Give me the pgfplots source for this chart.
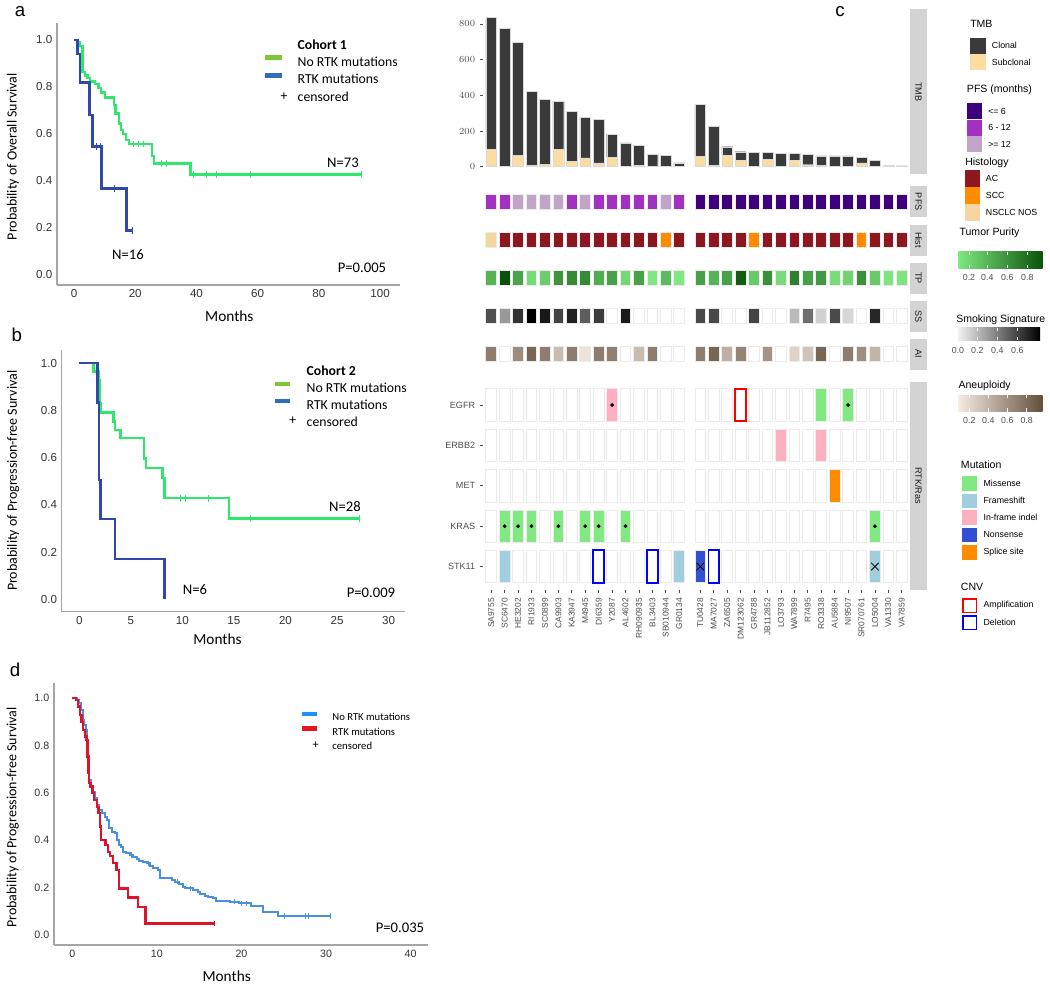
\documentclass[border=0pt]{standalone}
\usepackage{pgfplots}
\pgfplotsset{compat=1.18}
\usepackage{fontspec}
\setmainfont{Carlito}
\newfontfamily\arial{Liberation Sans}
\newcommand\fa[1]{\arial\fontsize{#1}{#1}\selectfont}
\newcommand\fc[1]{\fontsize{#1}{#1}\selectfont}
\definecolor{kmgreen}{RGB}{46,232,107}
\definecolor{kmblue}{RGB}{48,72,170}
\definecolor{leggreen}{RGB}{125,200,50}
\definecolor{legblue}{RGB}{47,109,181}
\definecolor{dblue}{RGB}{74,144,226}
\definecolor{dred}{RGB}{222,18,40}
\definecolor{dlegblue}{RGB}{30,144,255}
\definecolor{dlegred}{RGB}{232,20,30}
\definecolor{axgray}{RGB}{165,165,165}
\definecolor{clonal}{RGB}{58,58,58}
\definecolor{subclonal}{RGB}{253,220,162}
\definecolor{pfsA}{RGB}{63,0,125}
\definecolor{pfsB}{RGB}{162,48,192}
\definecolor{pfsC}{RGB}{194,164,200}
\definecolor{histAC}{RGB}{142,22,30}
\definecolor{histSCC}{RGB}{255,140,0}
\definecolor{histNOS}{RGB}{245,214,160}
\definecolor{missense}{RGB}{128,234,128}
\definecolor{frameshift}{RGB}{160,206,222}
\definecolor{inframe}{RGB}{255,176,192}
\definecolor{nonsense}{RGB}{50,80,210}
\definecolor{splice}{RGB}{255,140,0}
\definecolor{stripgray}{RGB}{211,211,211}
\definecolor{tickgray}{RGB}{77,77,77}
\definecolor{tpLo}{RGB}{128,232,128}
\definecolor{tpHi}{RGB}{10,82,10}
\definecolor{aiLo}{RGB}{245,235,225}
\definecolor{aiHi}{RGB}{100,78,60}
\pgfdeclareplotmark{tileS}{\pgfpathrectangle{\pgfqpoint{-4.03pt}{-5.6pt}}{\pgfqpoint{8.06pt}{11.2pt}}\pgfusepathqfillstroke}
\pgfdeclareplotmark{tileL}{\pgfpathrectangle{\pgfqpoint{-4.03pt}{-12.2pt}}{\pgfqpoint{8.06pt}{24.4pt}}\pgfusepathqfillstroke}
\pgfplotsset{
  km/.style={scale only axis, anchor=south west, axis x line*=bottom, axis y line*=left,
    axis line style={draw=axgray, line width=1.1pt}, major tick length=0pt,
    tick label style={font=\fa{8.7}, text=black!80},
    /pgf/number format/assume math mode=true,
    ytick={0,0.2,0.4,0.6,0.8,1},
    yticklabel style={/pgf/number format/fixed, /pgf/number format/fixed zerofill, /pgf/number format/precision=1},
    clip=false},
  cfacet/.style={scale only axis, anchor=south west, width=319.3pt, xmin=-0.6, xmax=31.1,
    axis line style={draw=none}, xtick=\empty, ytick=\empty, clip=false},
  crow/.style={cfacet, ymin=0, ymax=1, height=23.25pt},
  tileopt/.style={only marks, mark=tileS, mark options={fill=#1, draw=black!8, line width=0.6pt}},
  tileL/.style={only marks, mark=tileL, mark options={fill=#1, draw=black!8, line width=0.6pt}},
}
\begin{document}
\begin{tikzpicture}
\begin{scope}[x=0.75pt,y=-0.75pt]
\path[use as bounding box] (0,0) rectangle (1050,990);
\end{scope}

%================ Panel a
\begin{axis}[km, at={(42.75pt,-213.75pt)}, width=257.25pt, height=196.5pt,
  xmin=-5.56, xmax=106.5, ymin=-0.043, ymax=1.072, xtick={0,20,40,60,80,100}]
\addplot[const plot, kmgreen, line width=1.8pt] coordinates {(0,1.0)(1.09,0.99)(1.96,0.975)(2.83,0.863)(3.6,0.849)(4.36,0.837)(5.2,0.823)(6.9,0.813)(8.0,0.795)(8.8,0.776)(10.1,0.755)(13.1,0.722)(13.6,0.687)(14.7,0.645)(15.4,0.617)(16.1,0.599)(17.0,0.575)(18.0,0.557)(25.4,0.505)(26.2,0.474)(38.1,0.428)(94,0.428)};
\addplot[only marks, mark=|, mark size=2.5pt, kmgreen, mark options={line width=0.7pt}] coordinates {(19.4,0.557)(21,0.557)(22.7,0.557)(28.6,0.474)(30.3,0.474)(39,0.428)(43.4,0.428)(46.6,0.428)(57.5,0.428)(94,0.428)};
\addplot[const plot, kmblue, line width=1.8pt] coordinates {(0,1.0)(1.09,0.94)(1.96,0.818)(5.0,0.68)(6.1,0.547)(9.0,0.367)(17.2,0.189)(19.4,0.189)};
\addplot[only marks, mark=|, mark size=2.5pt, kmblue, mark options={line width=0.7pt}] coordinates {(7.4,0.547)(8.5,0.547)(13.1,0.367)(19.2,0.189)};
\end{axis}

%================ Panel b
\begin{axis}[km, at={(46.28pt,-458.78pt)}, width=257.5pt, height=196.3pt,
  xmin=-1.71, xmax=31.6, ymin=-0.0525, ymax=1.056, xtick={0,5,10,15,20,25,30}]
\addplot[const plot, kmgreen, line width=1.8pt] coordinates {(0,1.0)(1.36,0.965)(1.9,0.93)(2.0,0.83)(2.1,0.791)(3.3,0.753)(3.46,0.718)(4.01,0.682)(6.28,0.597)(6.44,0.555)(8.06,0.513)(8.25,0.428)(14.5,0.342)(27.2,0.342)};
\addplot[only marks, mark=|, mark size=2.5pt, kmgreen, mark options={line width=0.7pt}] coordinates {(9.77,0.428)(10.26,0.428)(12.5,0.428)(16.6,0.342)(27.2,0.342)};
\addplot[const plot, kmblue, line width=1.8pt] coordinates {(0,1.0)(1.78,0.833)(1.88,0.506)(2.07,0.339)(3.46,0.171)(8.25,0.0)};
\end{axis}

%================ Panel d
\begin{axis}[km, at={(40.5pt,-708.75pt)}, width=280.7pt, height=196.3pt,
  xmin=-2.16, xmax=42.08, ymin=-0.042, ymax=1.063, xtick={0,10,20,30,40}, tick label style={font=\fa{8}}]
\addplot[const plot, dblue, line width=1.5pt] coordinates {(0,1.0)(0.51,0.993)(0.83,0.979)(1.02,0.951)(1.22,0.908)(1.38,0.887)(1.58,0.866)(1.69,0.810)(1.81,0.739)(1.89,0.683)(2.01,0.655)(2.17,0.627)(2.40,0.606)(2.68,0.577)(2.96,0.549)(3.19,0.528)(3.47,0.514)(3.86,0.500)(4.14,0.486)(4.37,0.451)(4.65,0.437)(5.04,0.430)(5.32,0.401)(5.48,0.380)(5.71,0.370)(6.03,0.352)(6.34,0.345)(6.82,0.338)(7.21,0.331)(7.61,0.320)(7.92,0.314)(8.32,0.310)(8.79,0.303)(9.18,0.292)(9.58,0.282)(10.17,0.275)(10.40,0.239)(11.74,0.232)(12.14,0.225)(12.65,0.214)(13.04,0.204)(13.32,0.197)(14.31,0.190)(14.90,0.183)(15.09,0.172)(15.68,0.165)(16.08,0.162)(16.67,0.155)(16.99,0.145)(18.64,0.141)(19.74,0.134)(21.08,0.124)(22.58,0.099)(24.28,0.080)(30.46,0.080)};
\addplot[only marks, mark=|, mark size=2pt, dblue, mark options={line width=0.6pt}] coordinates {(7.0,0.338)(9.0,0.303)(12.4,0.225)(14.0,0.197)(19.2,0.141)(20.0,0.134)(20.6,0.134)(25.1,0.080)(27.5,0.080)(27.9,0.080)(30.46,0.080)};
\addplot[const plot, dred, line width=1.7pt] coordinates {(0,1.0)(0.43,0.993)(0.71,0.965)(0.91,0.930)(1.10,0.901)(1.30,0.866)(1.50,0.838)(1.69,0.824)(1.81,0.754)(1.93,0.683)(2.01,0.641)(2.17,0.627)(2.40,0.599)(2.60,0.570)(2.88,0.542)(3.11,0.514)(3.27,0.458)(3.43,0.401)(3.94,0.380)(4.22,0.352)(4.45,0.334)(4.85,0.303)(5.24,0.275)(5.48,0.197)(6.62,0.159)(7.80,0.120)(8.67,0.049)(16.8,0.049)};
\addplot[only marks, mark=|, mark size=2pt, dred, mark options={line width=0.6pt}] coordinates {(16.8,0.049)};
\end{axis}

%================ Panel c : TMB
\begin{axis}[cfacet, at={(362.36pt,-130.5pt)}, height=123.5pt, ymin=-41, ymax=882,
  ybar stacked, bar width=0.8,
  ytick={0,200,400,600,800}, ytick pos=left, tick align=outside, major tick length=2.5pt,
  y tick style={draw=tickgray, line width=0.6pt},
  yticklabel style={font=\fa{6.8}, text=tickgray}]
\addplot[fill=subclonal, draw=white!85!black, line width=0.3pt] coordinates {(0,97)(1,0)(2,64)(3,6)(4,13)(5,99)(6,28)(7,49)(8,21)(9,54)(10,0)(11,9)(12,0)(13,0)(14,0)(15.57,58)(16.57,9)(17.57,64)(18.57,34)(19.57,0)(20.57,41)(21.57,0)(22.57,37)(23.57,11)(24.57,7)(25.57,0)(26.57,0)(27.57,22)(28.57,0)(29.57,0)(30.57,0)};
\addplot[fill=clonal, draw=white!85!black, line width=0.3pt] coordinates {(0,740)(1,774)(2,631)(3,416)(4,366)(5,269)(6,284)(7,228)(8,243)(9,129)(10,133)(11,109)(12,71)(13,64)(14,22)(15.57,290)(16.57,217)(17.57,48)(18.57,50)(19.57,79)(20.57,38)(21.57,75)(22.57,38)(23.57,58)(24.57,53)(25.57,60)(26.57,60)(27.57,32)(28.57,37)(29.57,6)(30.57,4)};
\end{axis}

% PFS
\begin{axis}[crow, at={(362.36pt,-162.98pt)}]
\addplot[tileopt=pfsB] coordinates {(0,0.5)(1,0.5)(6,0.5)(8,0.5)(9,0.5)(10,0.5)(11,0.5)(12,0.5)(14,0.5)};
\addplot[tileopt=pfsC] coordinates {(2,0.5)(3,0.5)(4,0.5)(5,0.5)(7,0.5)(13,0.5)};
\addplot[tileopt=pfsA] coordinates {(15.57,0.5)(16.57,0.5)(17.57,0.5)(18.57,0.5)(19.57,0.5)(20.57,0.5)(21.57,0.5)(22.57,0.5)(23.57,0.5)(24.57,0.5)(25.57,0.5)(26.57,0.5)(27.57,0.5)(28.57,0.5)(29.57,0.5)(30.57,0.5)};
\end{axis}

% Histology
\begin{axis}[crow, at={(362.36pt,-191.63pt)}]
\addplot[tileopt=histNOS] coordinates {(0,0.5)};
\addplot[tileopt=histSCC] coordinates {(13,0.5)(19.57,0.5)(27.57,0.5)};
\addplot[tileopt=histAC] coordinates {(1,0.5)(2,0.5)(3,0.5)(4,0.5)(5,0.5)(6,0.5)(7,0.5)(8,0.5)(9,0.5)(10,0.5)(11,0.5)(12,0.5)(14,0.5)(15.57,0.5)(16.57,0.5)(17.57,0.5)(18.57,0.5)(20.57,0.5)(21.57,0.5)(22.57,0.5)(23.57,0.5)(24.57,0.5)(25.57,0.5)(26.57,0.5)(28.57,0.5)(29.57,0.5)(30.57,0.5)};
\end{axis}

% Tumor purity
\begin{axis}[crow, at={(362.36pt,-220.13pt)}, colormap={tp}{rgb255=(128,232,128) rgb255=(10,82,10)}, point meta min=0, point meta max=1]
\addplot[scatter, only marks, mark=tileS, point meta=explicit, mark options={line width=0.6pt}, scatter/use mapped color={draw=black!8, fill=mapped color}] coordinates {
(0,0.5)[0.35](1,0.5)[1.0](2,0.5)[0.45](3,0.5)[0.08](4,0.5)[0.18](5,0.5)[0.55](6,0.5)[0.62](7,0.5)[0.62](8,0.5)[0.4](9,0.5)[0.47](10,0.5)[0.1](11,0.5)[0.47](12,0.5)[0.0](13,0.5)[0.3](14,0.5)[0.0]
(15.57,0.5)[0.47](16.57,0.5)[0.35](17.57,0.5)[0.47](18.57,0.5)[0.92](19.57,0.5)[0.2](20.57,0.5)[0.58](21.57,0.5)[0.07](22.57,0.5)[0.68](23.57,0.5)[0.47](24.57,0.5)[0.52](25.57,0.5)[0.07](26.57,0.5)[0.13](27.57,0.5)[0.58](28.57,0.5)[0.2](29.57,0.5)[0.02](30.57,0.5)[0.02]};
\end{axis}

% Smoking signature
\begin{axis}[crow, at={(362.36pt,-248.78pt)}, colormap={ss}{color=(white) color=(black)}, point meta min=0, point meta max=1]
\addplot[scatter, only marks, mark=tileS, point meta=explicit, mark options={line width=0.6pt}, scatter/use mapped color={draw=black!8, fill=mapped color}] coordinates {
(0,0.5)[0.69](1,0.5)[0.4](2,0.5)[0.8](3,0.5)[1.0](4,0.5)[0.9](5,0.5)[0.73](6,0.5)[0.87](7,0.5)[0.63](8,0.5)[0.76](9,0.5)[0](10,0.5)[0.89](11,0.5)[0](12,0.5)[0](13,0.5)[0](14,0.5)[0]
(15.57,0.5)[0.71](16.57,0.5)[0.71](17.57,0.5)[0](18.57,0.5)[0](19.57,0.5)[0.73](20.57,0.5)[0](21.57,0.5)[0](22.57,0.5)[0.27](23.57,0.5)[0.56](24.57,0.5)[0.18](25.57,0.5)[0.70](26.57,0.5)[0.16](27.57,0.5)[0](28.57,0.5)[0.84](29.57,0.5)[0](30.57,0.5)[0]};
\end{axis}

% Aneuploidy
\begin{axis}[crow, at={(362.36pt,-277.28pt)}, colormap={ai}{rgb255=(245,235,225) rgb255=(100,78,60)}, point meta min=0, point meta max=1]
\addplot[tileopt=white] coordinates {(1,0.5)(10,0.5)(13,0.5)(14,0.5)(19.57,0.5)(21.57,0.5)(25.57,0.5)(29.57,0.5)(30.57,0.5)};
\addplot[scatter, only marks, mark=tileS, point meta=explicit, mark options={line width=0.6pt}, scatter/use mapped color={draw=black!8, fill=mapped color}] coordinates {
(0,0.5)[0.7](2,0.5)[0.6](3,0.5)[0.85](4,0.5)[0.7](5,0.5)[0.3](6,0.5)[0.7](7,0.5)[0.05](8,0.5)[0.7](9,0.5)[0.68](11,0.5)[0.3](12,0.5)[0.7]
(15.57,0.5)[0.7](16.57,0.5)[0.85](17.57,0.5)[0.38](18.57,0.5)[0.66](20.57,0.5)[0.55](22.57,0.5)[0.15](23.57,0.5)[0.25](24.57,0.5)[0.85](26.57,0.5)[0.7](27.57,0.5)[0.58](28.57,0.5)[0.35]};
\end{axis}

% RTK/Ras
\begin{axis}[cfacet, at={(362.36pt,-442.5pt)}, height=156.2pt, ymin=-0.58, ymax=4.577,
  ytick={0,1,2,3,4}, yticklabels={STK11,KRAS,MET,ERBB2,EGFR},
  xtick={0,1,2,3,4,5,6,7,8,9,10,11,12,13,14,15.57,16.57,17.57,18.57,19.57,20.57,21.57,22.57,23.57,24.57,25.57,26.57,27.57,28.57,29.57,30.57},
  xticklabels={SA9755,SC6470,HE3202,RI1933,SC0899,CA9903,KA3947,M4945,DI6359,Y2087,AL4602,RH090935,BL3403,SB010944,GR0134,TU0428,MA7027,ZA6505,DM123062,GR4788,JB112852,LO3793,WA7899,R7495,RO3338,AU5884,NI9507,SR070761,LO5004,VA1330,VA7859},
  tick pos=left, tick align=outside, major tick length=2.5pt,
  tick style={draw=tickgray, line width=0.6pt},
  xticklabel style={rotate=90, anchor=east, font=\fa{6.3}, text=tickgray},
  yticklabel style={font=\fa{6.8}, text=tickgray}]
\addplot[tileL=white] coordinates {(0,4)(1,4)(2,4)(3,4)(4,4)(5,4)(6,4)(7,4)(8,4)(9,4)(10,4)(11,4)(12,4)(13,4)(14,4)(15.57,4)(16.57,4)(17.57,4)(18.57,4)(19.57,4)(20.57,4)(21.57,4)(22.57,4)(23.57,4)(24.57,4)(25.57,4)(26.57,4)(27.57,4)(28.57,4)(29.57,4)(30.57,4)};
\addplot[tileL=white] coordinates {(0,3)(1,3)(2,3)(3,3)(4,3)(5,3)(6,3)(7,3)(8,3)(9,3)(10,3)(11,3)(12,3)(13,3)(14,3)(15.57,3)(16.57,3)(17.57,3)(18.57,3)(19.57,3)(20.57,3)(21.57,3)(22.57,3)(23.57,3)(24.57,3)(25.57,3)(26.57,3)(27.57,3)(28.57,3)(29.57,3)(30.57,3)};
\addplot[tileL=white] coordinates {(0,2)(1,2)(2,2)(3,2)(4,2)(5,2)(6,2)(7,2)(8,2)(9,2)(10,2)(11,2)(12,2)(13,2)(14,2)(15.57,2)(16.57,2)(17.57,2)(18.57,2)(19.57,2)(20.57,2)(21.57,2)(22.57,2)(23.57,2)(24.57,2)(25.57,2)(26.57,2)(27.57,2)(28.57,2)(29.57,2)(30.57,2)};
\addplot[tileL=white] coordinates {(0,1)(1,1)(2,1)(3,1)(4,1)(5,1)(6,1)(7,1)(8,1)(9,1)(10,1)(11,1)(12,1)(13,1)(14,1)(15.57,1)(16.57,1)(17.57,1)(18.57,1)(19.57,1)(20.57,1)(21.57,1)(22.57,1)(23.57,1)(24.57,1)(25.57,1)(26.57,1)(27.57,1)(28.57,1)(29.57,1)(30.57,1)};
\addplot[tileL=white] coordinates {(0,0)(1,0)(2,0)(3,0)(4,0)(5,0)(6,0)(7,0)(8,0)(9,0)(10,0)(11,0)(12,0)(13,0)(14,0)(15.57,0)(16.57,0)(17.57,0)(18.57,0)(19.57,0)(20.57,0)(21.57,0)(22.57,0)(23.57,0)(24.57,0)(25.57,0)(26.57,0)(27.57,0)(28.57,0)(29.57,0)(30.57,0)};
% mutations
\addplot[tileL=missense] coordinates {(24.57,4)(26.57,4)(1,1)(2,1)(3,1)(5,1)(7,1)(8,1)(10,1)(28.57,1)};
\addplot[tileL=inframe] coordinates {(9,4)(21.57,3)(24.57,3)};
\addplot[tileL=splice] coordinates {(25.57,2)};
\addplot[tileL=frameshift] coordinates {(1,0)(14,0)(28.57,0)};
\addplot[tileL=nonsense] coordinates {(15.57,0)};
% CNV
\addplot[only marks, mark=tileL, mark options={fill=white, draw=red, line width=1.3pt}] coordinates {(18.57,4)};
\addplot[only marks, mark=tileL, mark options={fill=white, draw=blue, line width=1.3pt}] coordinates {(8,0)(12,0)(16.57,0)};
% hotspot dots and crosses
\addplot[only marks, mark=*, mark size=1.2pt, black] coordinates {(9,4)(26.57,4)(1,1)(2,1)(3,1)(5,1)(7,1)(8,1)(10,1)(28.57,1)};
\addplot[only marks, mark=x, mark size=4pt, black, mark options={line width=0.6pt}] coordinates {(15.57,0)(28.57,0)};
\end{axis}

%================ Decorations and text
\begin{scope}[x=0.75pt,y=-0.75pt]
% panel letters
\node[font=\fa{14}] at (20,12) {a};
\node[font=\fa{14}] at (16.7,335) {b};
\node[font=\fa{14}] at (840,12) {c};
\node[font=\fa{14}] at (15,670) {d};
% panel a texts
\node[rotate=90, font=\fc{10.5}] at (13,156.7) {Probability of Overall Survival};
\node[font=\fc{11.5}] at (229.3,316.7) {Months};
\node[anchor=west, font=\fc{10.3}\bfseries] at (293,45) {Cohort 1};
\draw[leggreen, line width=3.5pt] (265,57.5) -- (282,57.5);
\node[anchor=west, font=\fc{10.3}] at (293,62) {No RTK mutations};
\draw[legblue, line width=3.5pt] (265,75.5) -- (282,75.5);
\node[anchor=west, font=\fc{10.3}] at (293,79) {RTK mutations};
\node[font=\fc{10.3}] at (284,96.5) {+};
\node[anchor=west, font=\fc{10.3}] at (293,97) {censored};
\node[font=\fc{11}] at (343,163) {N=73};
\node[font=\fc{11}] at (128,255) {N=16};
\node[font=\fc{11}] at (362,268) {P=0.005};
% panel b texts
\node[rotate=90, font=\fc{10.5}] at (13.3,480.8) {Probability of Progression-free Survival};
\node[font=\fc{11.5}] at (217.5,639) {Months};
\node[anchor=west, font=\fc{10.3}\bfseries] at (302,370.7) {Cohort 2};
\draw[leggreen, line width=3.5pt] (275,384) -- (290,384);
\node[anchor=west, font=\fc{10.3}] at (302,387.7) {No RTK mutations};
\draw[legblue, line width=3.5pt] (275,401) -- (290,401);
\node[anchor=west, font=\fc{10.3}] at (302,404.3) {RTK mutations};
\node[font=\fc{10.3}] at (292.7,421.2) {+};
\node[anchor=west, font=\fc{10.3}] at (302,421.7) {censored};
\node[font=\fc{11}] at (345,506.7) {N=28};
\node[font=\fc{11}] at (195,590) {N=6};
\node[font=\fc{11}] at (371,592.7) {P=0.009};
% panel d texts
\node[rotate=90, font=\fc{10.5}] at (12.7,817.5) {Probability of Progression-free Survival};
\node[font=\fc{11.5}] at (226.7,976.7) {Months};
\draw[dlegblue, line width=3.5pt] (302,714) -- (317,714);
\node[anchor=west, font=\fc{8}] at (327.7,717.3) {No RTK mutations};
\draw[dlegred, line width=3.5pt] (302,728.3) -- (317,728.3);
\node[anchor=west, font=\fc{8}] at (327.7,731.7) {RTK mutations};
\node[font=\fc{9}] at (315.7,745.5) {+};
\node[anchor=west, font=\fc{8}] at (327.7,746) {censored};
\node[font=\fc{11}] at (400,928) {P=0.035};
% facet strips
\fill[stripgray] (910,9.3) rectangle (927,174);
\node[rotate=-90, font=\fa{6.8}, text=black!90] at (918.5,91.6) {TMB};
\fill[stripgray] (910,186.3) rectangle (927,217.3);
\node[rotate=-90, font=\fa{6.8}, text=black!90] at (918.5,201.8) {PFS};
\fill[stripgray] (910,224.5) rectangle (927,255.5);
\node[rotate=-90, font=\fa{6.8}, text=black!90] at (918.5,240) {Hist};
\fill[stripgray] (910,262.5) rectangle (927,293.5);
\node[rotate=-90, font=\fa{6.8}, text=black!90] at (918.5,278) {TP};
\fill[stripgray] (910,300.7) rectangle (927,331.7);
\node[rotate=-90, font=\fa{6.8}, text=black!90] at (918.5,316.2) {SS};
\fill[stripgray] (910,338.7) rectangle (927,369.7);
\node[rotate=-90, font=\fa{6.8}, text=black!90] at (918.5,354.2) {AI};
\fill[stripgray] (910,381.7) rectangle (927,590);
\node[rotate=-90, font=\fa{6.8}, text=black!90] at (918.5,485.8) {RTK/Ras};
% legends panel c
\node[anchor=west, font=\fa{7.9}, inner sep=0] at (970,24) {TMB};
\fill[clonal] (970,37.7) rectangle (986,53.5);
\fill[subclonal] (970,54.3) rectangle (986,70);
\node[anchor=west, font=\fa{6.6}, inner sep=0] at (991.7,45.5) {Clonal};
\node[anchor=west, font=\fa{6.6}, inner sep=0] at (991.7,62.2) {Subclonal};
\node[anchor=west, font=\fa{7.9}, inner sep=0] at (966.7,89.3) {PFS (months)};
\fill[pfsA] (966.7,103) rectangle (982,119);
\fill[pfsB] (966.7,119.5) rectangle (982,135.5);
\fill[pfsC] (966.7,136) rectangle (982,152);
\node[anchor=west, font=\fa{6.6}, inner sep=0] at (988,111) {<= 6};
\node[anchor=west, font=\fa{6.6}, inner sep=0] at (988,127.5) {6 - 12};
\node[anchor=west, font=\fa{6.6}, inner sep=0] at (988,144) {>= 12};
\node[anchor=west, font=\fa{7.9}, inner sep=0] at (965,162.7) {Histology};
\fill[histAC] (965,170) rectangle (980,186.5);
\fill[histSCC] (965,187) rectangle (980,203.5);
\fill[histNOS] (965,204) rectangle (980,220.5);
\node[anchor=west, font=\fa{6.6}, inner sep=0] at (985.7,178.2) {AC};
\node[anchor=west, font=\fa{6.6}, inner sep=0] at (985.7,195.2) {SCC};
\node[anchor=west, font=\fa{6.6}, inner sep=0] at (985.7,212.2) {NSCLC NOS};
\node[anchor=west, font=\fa{7.9}, inner sep=0] at (959.3,232.7) {Tumor Purity};
\shade[left color=tpLo, right color=tpHi] (958.3,251.7) rectangle (1042.7,268.3);
\foreach \xx in {969,987.3,1007.3,1027.3}{\draw[white, line width=0.5pt] (\xx,251.7) -- (\xx,255) (\xx,265) -- (\xx,268.3);}
\foreach \xx/\tt in {969/0.2,987.3/0.4,1007.3/0.6,1027.3/0.8}{\node[font=\fa{6.6}, text=tickgray] at (\xx,277.3) {\tt};}
\node[anchor=west, font=\fa{7.9}, inner sep=0] at (956,320) {Smoking Signature};
\shade[left color=white!95!black, right color=black] (958,327.5) rectangle (1040,340);
\foreach \xx in {956.7,977.3,997.3,1017.3}{\draw[white, line width=0.5pt] (\xx,327.5) -- (\xx,330.5) (\xx,337) -- (\xx,340);}
\foreach \xx/\tt in {958/0.0,977.3/0.2,997.3/0.4,1017.3/0.6}{\node[font=\fa{6.6}, text=tickgray] at (\xx,350) {\tt};}
\node[anchor=west, font=\fa{7.9}, inner sep=0] at (958.3,386) {Aneuploidy};
\shade[left color=aiLo, right color=aiHi] (958.3,395) rectangle (1042.7,411.7);
\foreach \xx in {969.3,988.3,1007.3,1026.7}{\draw[white, line width=0.5pt] (\xx,395) -- (\xx,398.3) (\xx,408.4) -- (\xx,411.7);}
\foreach \xx/\tt in {969.3/0.2,988.3/0.4,1007.3/0.6,1026.7/0.8}{\node[font=\fa{6.6}, text=tickgray] at (\xx,420.7) {\tt};}
\node[anchor=west, font=\fa{7.9}, inner sep=0] at (960.7,465) {Mutation};
\fill[missense] (962.3,476) rectangle (977.3,490.7);
\fill[frameshift] (962.3,493.5) rectangle (977.3,508.2);
\fill[inframe] (962.3,510.2) rectangle (977.3,524.9);
\fill[nonsense] (962.3,527.5) rectangle (977.3,542.2);
\fill[splice] (962.3,545.2) rectangle (977.3,559.9);
\node[anchor=west, font=\fa{6.6}, inner sep=0] at (983.3,483.3) {Missense};
\node[anchor=west, font=\fa{6.6}, inner sep=0] at (983.3,500.8) {Frameshift};
\node[anchor=west, font=\fa{6.6}, inner sep=0] at (983.3,517.5) {In-frame indel};
\node[anchor=west, font=\fa{6.6}, inner sep=0] at (983.3,534.8) {Nonsense};
\node[anchor=west, font=\fa{6.6}, inner sep=0] at (983.3,552.5) {Splice site};
\node[anchor=west, font=\fa{7.9}, inner sep=0] at (960.7,587.3) {CNV};
\draw[red, line width=1.2pt] (963,599) rectangle (976.5,612.5);
\draw[blue, line width=1.2pt] (963,616) rectangle (976.5,629.5);
\node[anchor=west, font=\fa{6.6}, inner sep=0] at (983.3,605.5) {Amplification};
\node[anchor=west, font=\fa{6.6}, inner sep=0] at (983.3,622.5) {Deletion};
\end{scope}
\end{tikzpicture}
\end{document}
